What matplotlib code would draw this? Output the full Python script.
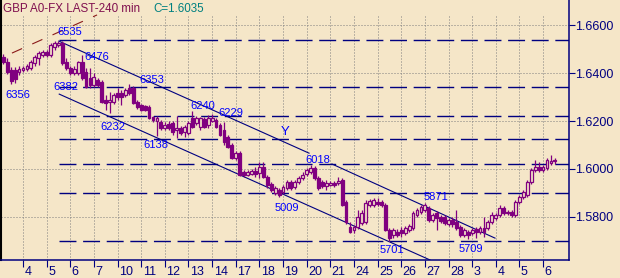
import matplotlib
matplotlib.use('Agg')
import matplotlib.pyplot as plt
import matplotlib.transforms as mtransforms
import numpy as np

plt.rcParams['font.family'] = ['Liberation Sans', 'DejaVu Sans']
plt.rcParams['lines.scale_dashes'] = False

BG = '#F5E6C8'
NAVY = '#000080'
PURPLE = '#800080'
BLUE = '#0000FF'

# 240 min bars, first row is the tail of the previous day
opens = [
    1.6466, 1.6446, 1.6412, 1.6412, 1.6404,
    1.6412, 1.6416, 1.6421, 1.6441, 1.6462, 1.6475,
    1.6487, 1.6475, 1.6508, 1.6516, 1.6525, 1.6446,
    1.6421, 1.6400, 1.6400, 1.6446, 1.6404, 1.6379,
    1.6350, 1.6371, 1.6362, 1.6287, 1.6279, 1.6279,
    1.6316, 1.6316, 1.6308, 1.6337, 1.6337, 1.6279,
    1.6266, 1.6262, 1.6258, 1.6216, 1.6200, 1.6196,
    1.6171, 1.6187, 1.6191, 1.6162, 1.6171, 1.6154,
    1.6150, 1.6212, 1.6191, 1.6175, 1.6208, 1.6183,
    1.6200, 1.6204, 1.6183, 1.6162, 1.6133, 1.6100,
    1.6046, 1.6066, 1.5987, 1.5975, 1.5979, 1.5991,
    1.5983, 1.6008, 1.5966, 1.5937, 1.5900, 1.5912,
    1.5904, 1.5921, 1.5946, 1.5925, 1.5946, 1.5962,
    1.5979, 1.5987, 1.6004, 1.5962, 1.5946, 1.5929,
    1.5933, 1.5941, 1.5941, 1.5954, 1.5862, 1.5758,
    1.5746, 1.5758, 1.5775, 1.5779, 1.5850, 1.5850,
    1.5862, 1.5862, 1.5850, 1.5746, 1.5725, 1.5737,
    1.5746, 1.5733, 1.5746, 1.5754, 1.5808, 1.5821,
    1.5829, 1.5837, 1.5787, 1.5816, 1.5800, 1.5800,
    1.5771, 1.5787, 1.5779, 1.5758, 1.5725, 1.5737,
    1.5733, 1.5750, 1.5737, 1.5754, 1.5754, 1.5779,
    1.5796, 1.5808, 1.5837, 1.5816, 1.5821, 1.5808,
    1.5862, 1.5883, 1.5891, 1.5946, 1.5996, 1.6008,
    1.5996, 1.6004, 1.6025, 1.6037,
]
highs = [
    1.6479, 1.6462, 1.6425, 1.6425, 1.6429,
    1.6429, 1.6437, 1.6454, 1.6475, 1.6491, 1.6496,
    1.6496, 1.6525, 1.6533, 1.6535, 1.6533, 1.6462,
    1.6429, 1.6429, 1.6450, 1.6476, 1.6421, 1.6421,
    1.6400, 1.6379, 1.6371, 1.6308, 1.6321, 1.6316,
    1.6337, 1.6329, 1.6337, 1.6353, 1.6346, 1.6287,
    1.6271, 1.6266, 1.6266, 1.6221, 1.6221, 1.6204,
    1.6196, 1.6200, 1.6200, 1.6221, 1.6179, 1.6183,
    1.6200, 1.6240, 1.6221, 1.6216, 1.6216, 1.6225,
    1.6229, 1.6212, 1.6191, 1.6196, 1.6141, 1.6108,
    1.6075, 1.6075, 1.5996, 1.5996, 1.6000, 1.6008,
    1.6029, 1.6029, 1.5975, 1.5946, 1.5929, 1.5921,
    1.5933, 1.5954, 1.5954, 1.5954, 1.5971, 1.5987,
    1.6004, 1.6018, 1.6012, 1.5971, 1.5954, 1.5954,
    1.5950, 1.5950, 1.5966, 1.5962, 1.5871, 1.5779,
    1.5766, 1.5829, 1.5829, 1.5871, 1.5875, 1.5879,
    1.5879, 1.5871, 1.5858, 1.5754, 1.5754, 1.5750,
    1.5758, 1.5762, 1.5771, 1.5825, 1.5837, 1.5850,
    1.5858, 1.5846, 1.5816, 1.5825, 1.5808, 1.5808,
    1.5796, 1.5800, 1.5829, 1.5766, 1.5754, 1.5746,
    1.5754, 1.5758, 1.5762, 1.5800, 1.5787, 1.5821,
    1.5816, 1.5850, 1.5846, 1.5829, 1.5829, 1.5871,
    1.5891, 1.5912, 1.5954, 1.6004, 1.6037, 1.6029,
    1.6016, 1.6046, 1.6058, 1.6046,
]
lows = [
    1.6437, 1.6396, 1.6356, 1.6358, 1.6391,
    1.6404, 1.6408, 1.6412, 1.6429, 1.6433, 1.6466,
    1.6466, 1.6466, 1.6496, 1.6508, 1.6433, 1.6412,
    1.6391, 1.6391, 1.6391, 1.6371, 1.6337, 1.6337,
    1.6341, 1.6341, 1.6275, 1.6246, 1.6232, 1.6271,
    1.6287, 1.6266, 1.6300, 1.6308, 1.6271, 1.6250,
    1.6241, 1.6241, 1.6208, 1.6196, 1.6138, 1.6162,
    1.6162, 1.6162, 1.6141, 1.6129, 1.6141, 1.6133,
    1.6141, 1.6171, 1.6183, 1.6162, 1.6171, 1.6171,
    1.6196, 1.6171, 1.6137, 1.6100, 1.6087, 1.6041,
    1.6037, 1.5971, 1.5966, 1.5971, 1.5975, 1.5966,
    1.5962, 1.5962, 1.5921, 1.5904, 1.5891, 1.5883,
    1.5896, 1.5912, 1.5912, 1.5916, 1.5937, 1.5954,
    1.5971, 1.5979, 1.5954, 1.5912, 1.5921, 1.5912,
    1.5929, 1.5925, 1.5933, 1.5846, 1.5771, 1.5733,
    1.5733, 1.5750, 1.5766, 1.5771, 1.5841, 1.5841,
    1.5846, 1.5841, 1.5741, 1.5701, 1.5712, 1.5716,
    1.5716, 1.5725, 1.5737, 1.5746, 1.5800, 1.5812,
    1.5821, 1.5779, 1.5779, 1.5746, 1.5775, 1.5766,
    1.5762, 1.5758, 1.5746, 1.5716, 1.5716, 1.5709,
    1.5725, 1.5712, 1.5729, 1.5716, 1.5746, 1.5771,
    1.5787, 1.5800, 1.5808, 1.5808, 1.5800, 1.5800,
    1.5854, 1.5875, 1.5883, 1.5937, 1.5987, 1.5987,
    1.5987, 1.5996, 1.6016, 1.6021,
]
closes = [
    1.6446, 1.6404, 1.6366, 1.6375, 1.6416,
    1.6421, 1.6429, 1.6446, 1.6466, 1.6483, 1.6487,
    1.6475, 1.6516, 1.6525, 1.6525, 1.6441, 1.6421,
    1.6400, 1.6416, 1.6446, 1.6379, 1.6341, 1.6350,
    1.6383, 1.6350, 1.6279, 1.6275, 1.6287, 1.6308,
    1.6300, 1.6300, 1.6329, 1.6316, 1.6275, 1.6258,
    1.6246, 1.6246, 1.6212, 1.6204, 1.6212, 1.6171,
    1.6183, 1.6171, 1.6154, 1.6171, 1.6150, 1.6175,
    1.6191, 1.6175, 1.6212, 1.6212, 1.6175, 1.6212,
    1.6212, 1.6175, 1.6141, 1.6112, 1.6091, 1.6046,
    1.6066, 1.5975, 1.5975, 1.5987, 1.5991, 1.5979,
    1.6008, 1.5966, 1.5933, 1.5912, 1.5921, 1.5891,
    1.5925, 1.5946, 1.5921, 1.5946, 1.5962, 1.5975,
    1.5996, 1.6004, 1.5962, 1.5921, 1.5929, 1.5941,
    1.5941, 1.5933, 1.5950, 1.5850, 1.5779, 1.5737,
    1.5758, 1.5800, 1.5816, 1.5858, 1.5866, 1.5871,
    1.5854, 1.5850, 1.5746, 1.5712, 1.5746, 1.5725,
    1.5733, 1.5754, 1.5762, 1.5816, 1.5829, 1.5841,
    1.5850, 1.5787, 1.5808, 1.5796, 1.5783, 1.5775,
    1.5787, 1.5771, 1.5754, 1.5725, 1.5746, 1.5725,
    1.5746, 1.5737, 1.5754, 1.5737, 1.5779, 1.5808,
    1.5808, 1.5837, 1.5816, 1.5821, 1.5808, 1.5862,
    1.5883, 1.5904, 1.5946, 1.5996, 1.6008, 1.5996,
    1.6008, 1.6037, 1.6033, 1.6035,
]

day_labels = ['4', '5', '6', '7', '10', '11', '12', '13', '14', '17', '18', '19',
              '20', '21', '24', '25', '26', '27', '28', '3', '4', '5', '6']
price_ticks = [1.58, 1.60, 1.62, 1.64, 1.66]

# horizontal support / resistance levels
levels = [1.6537, 1.6341, 1.6221, 1.6125, 1.6021, 1.5900, 1.5700]
level_start = 9.1

# trendlines: (bar, price) end points
upper_line = ([9.1, 72.6], [1.6533, 1.6066])
upper_line2 = ([78.4, 119.8], [1.6021, 1.5712])
lower_line = ([9.2, 103.3], [1.6312, 1.5621])
old_line = ([-2.8, 18.8], [1.6483, 1.6642])

# price labels: text, bar, price
marks = [('6535', 11.9, 1.6571), ('6476', 18.8, 1.6466), ('6353', 32.7, 1.6371),
         ('6356', -1.3, 1.6308), ('6382', 10.9, 1.6341), ('6232', 22.8, 1.6175),
         ('6138', 33.8, 1.6100), ('6240', 45.7, 1.6262), ('6229', 52.8, 1.6233),
         ('6018', 74.9, 1.6037), ('5009', 67.0, 1.5837), ('5701', 93.7, 1.5662),
         ('5871', 104.8, 1.5883), ('5709', 113.7, 1.5667)]

o = np.array(opens)
h = np.array(highs)
l = np.array(lows)
c = np.array(closes)
bars = np.arange(-5, -5 + len(o))
day_ticks = np.arange(len(day_labels)) * 6

fig = plt.figure(figsize=(6.2, 2.78), dpi=100, facecolor=BG)
ax = fig.add_axes([1 / 620, 18 / 278, 568 / 620, 260 / 278], facecolor=BG)
ax.set_xlim(-5.58, 138.58)
ax.set_ylim(1.56208, 1.67042)

# dotted grid
for t in price_ticks:
    ax.axhline(t, color='#808080', lw=0.72, ls=(0, (0.72, 1.44)), zorder=1)
for d in day_ticks:
    ax.axvline(d, ymax=0.942, color='#808080', lw=0.72, ls=(0, (0.72, 1.44)), zorder=1)

ax.hlines(levels, level_start, 138.58, colors=NAVY, lw=1.0,
          linestyles=[(0, (12.2, 4.8))], zorder=2)

for xs, ys in [upper_line, upper_line2, lower_line]:
    ax.plot(xs, ys, color=NAVY, lw=0.8, zorder=2)
ax.plot(old_line[0], old_line[1], color='#8B1A1A', lw=0.8, ls=(0, (8, 8)), zorder=2)

# candles
ax.vlines(bars, l, h, colors=PURPLE, lw=0.9, zorder=3)
up = c >= o
ax.bar(bars[up], (c - o)[up], bottom=o[up], width=0.72, facecolor=BG,
       edgecolor=PURPLE, lw=0.9, zorder=4)
ax.bar(bars[~up], (o - c)[~up], bottom=c[~up], width=0.72, facecolor=PURPLE,
       edgecolor=PURPLE, lw=0.9, zorder=4)

for txt, x, y in marks:
    ax.text(x, y, txt, color=BLUE, fontsize=8, ha='center', va='center', zorder=6)
ax.text(66.5, 1.6154, 'Y', color=BLUE, fontsize=9.5, ha='center', va='center', zorder=6)

# axes styling
ax.spines['top'].set_visible(False)
ax.spines['left'].set_color('black')
ax.spines['left'].set_linewidth(1.5)
ax.spines['bottom'].set_color(NAVY)
ax.spines['bottom'].set_linewidth(1.1)
ax.spines['right'].set_color(NAVY)
ax.spines['right'].set_linewidth(1.1)

ax.yaxis.tick_right()
ax.set_yticks(price_ticks)
ax.set_yticklabels(['%.4f' % t for t in price_ticks])
ax.tick_params(axis='y', length=4.3, width=0.8, color=NAVY, labelcolor=NAVY,
               labelsize=9, pad=0)

ax.set_xticks(day_ticks)
ax.set_xticklabels(day_labels)
ax.tick_params(axis='x', length=5, width=0.8, color=NAVY, labelcolor=NAVY,
               labelsize=9, pad=-1)
shift = mtransforms.ScaledTranslation(1.5 / 100, 0, fig.dpi_scale_trans)
for lab in ax.get_xticklabels():
    lab.set_horizontalalignment('left')
    lab.set_transform(lab.get_transform() + shift)

fig.text(3 / 620, 1 - 11.7 / 278, 'GBP A0-FX LAST-240 min', color='#80104F',
         fontsize=8.4, va='baseline')
fig.text(153 / 620, 1 - 11.7 / 278, 'C=1.6035', color='#008080',
         fontsize=8.4, va='baseline')

fig.savefig('out.png', dpi=100, facecolor=BG)
